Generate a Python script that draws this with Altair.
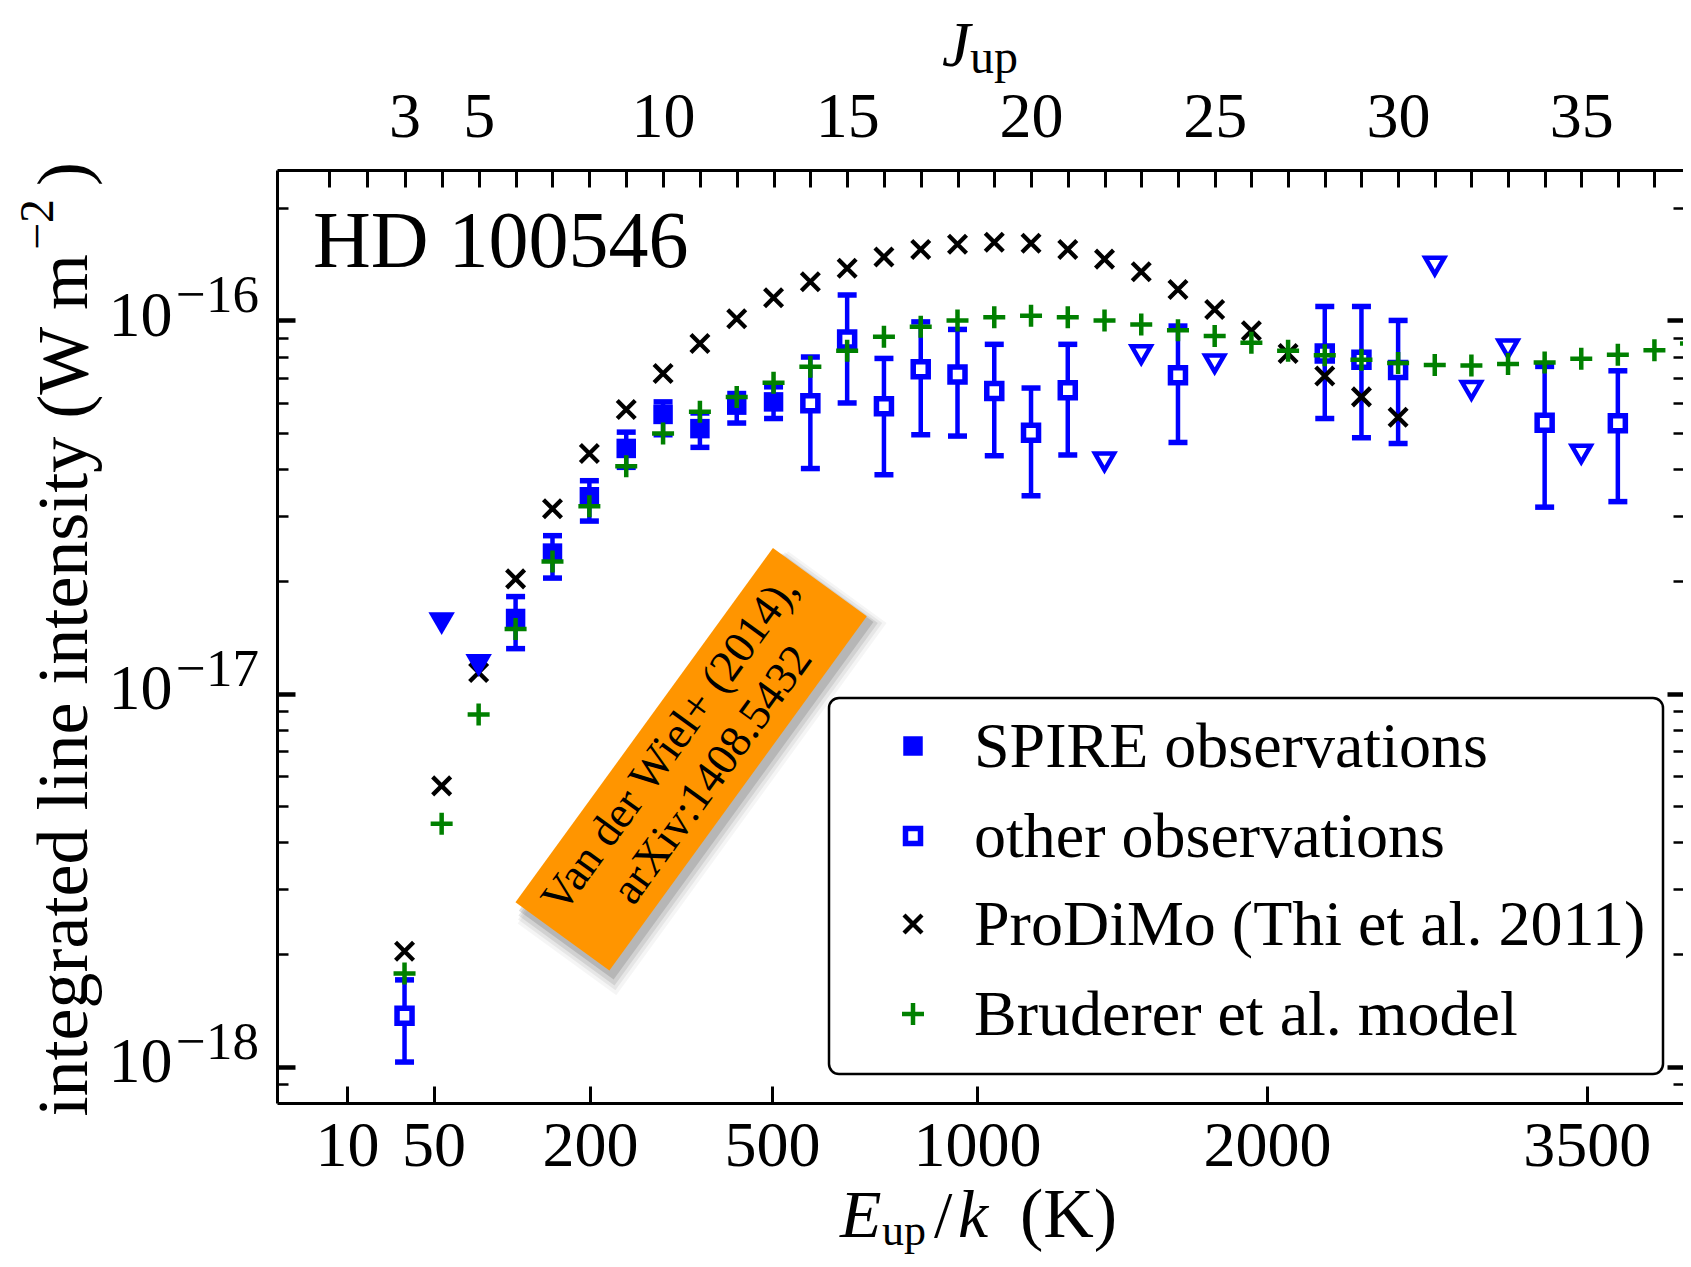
import altair as alt
import pandas as pd

FONT = "Liberation Serif"
BLUE = "#0000ff"
GREEN = "#008000"
ORANGE = "#ff9500"
W, H = 1406, 933          # visible plot area
XR = 1414                 # x-scale range (plot continues past the right edge)

# CO upper-level energies E_up/k (K) for J_up = 1..38
J_ALL = list(range(1, 39))
E_ALL = [5.53, 16.60, 33.19, 55.32, 82.97, 116.16, 154.87, 199.11, 248.88, 304.16,
         364.97, 431.29, 503.13, 580.49, 663.35, 751.72, 845.59, 944.97, 1049.84, 1160.20,
         1276.05, 1397.38, 1524.19, 1656.47, 1794.23, 1937.44, 2086.12, 2240.24, 2399.82, 2564.83,
         2735.28, 2911.15, 3092.45, 3279.15, 3471.25, 3668.75, 3871.63, 4079.9]
E_OF = dict(zip(J_ALL, E_ALL))

X_TICKS = [10, 50, 200, 500, 1000, 2000, 3500]
J_LABELS = [3, 5, 10, 15, 20, 25, 30, 35]
Y_MAJOR = [1e-18, 1e-17, 1e-16]
Y_EXP = ["\u221218", "\u221217", "\u221216"]
Y_MINOR = [9e-19, 2e-18, 3e-18, 4e-18, 5e-18, 6e-18, 7e-18, 8e-18, 9e-18,
           2e-17, 3e-17, 4e-17, 5e-17, 6e-17, 7e-17, 8e-17, 9e-17, 2e-16]

# ProDiMo (Thi et al. 2011)
PRODIMO_J = list(range(3, 31))
PRODIMO_I = [2.04e-18, 5.66e-18, 1.14e-17, 2.03e-17, 3.13e-17, 4.40e-17, 5.77e-17, 7.21e-17,
             8.67e-17, 1.01e-16, 1.15e-16, 1.27e-16, 1.38e-16, 1.48e-16, 1.55e-16, 1.60e-16,
             1.62e-16, 1.61e-16, 1.55e-16, 1.46e-16, 1.35e-16, 1.21e-16, 1.07e-16, 9.38e-17,
             8.15e-17, 7.10e-17, 6.24e-17, 5.50e-17]

# Bruderer et al. model
BRUD_J = list(range(3, 39))
BRUD_I = [1.78e-18, 4.48e-18, 8.79e-18, 1.49e-17, 2.26e-17, 3.18e-17, 4.07e-17, 4.98e-17,
          5.69e-17, 6.24e-17, 6.81e-17, 7.52e-17, 8.30e-17, 9.04e-17, 9.62e-17, 1.00e-16,
          1.02e-16, 1.03e-16, 1.02e-16, 1.00e-16, 9.75e-17, 9.42e-17, 9.08e-17, 8.71e-17,
          8.30e-17, 8.07e-17, 7.85e-17, 7.69e-17, 7.60e-17, 7.57e-17, 7.64e-17, 7.71e-17,
          7.89e-17, 8.09e-17, 8.32e-17, 8.67e-17]

# SPIRE observations
SPIRE_J = [6, 7, 8, 9, 10, 11, 12, 13]
SPIRE_I = [1.59e-17, 2.38e-17, 3.37e-17, 4.54e-17, 5.60e-17, 5.13e-17, 5.93e-17, 6.05e-17]
SPIRE_HI = [1.82e-17, 2.65e-17, 3.72e-17, 5.02e-17, 6.05e-17, 5.65e-17, 6.37e-17, 6.64e-17]
SPIRE_LO = [1.32e-17, 2.04e-17, 2.90e-17, 4.04e-17, 4.94e-17, 4.57e-17, 5.31e-17, 5.46e-17]
SPIRE_UL_J = [4, 5]
SPIRE_UL_I = [1.54e-17, 1.19e-17]

# other observations
OTHER_J = [3, 14, 15, 16, 17, 18, 19, 20, 21, 24, 28, 29, 30, 34, 36]
OTHER_I = [1.37e-18, 6.00e-17, 8.89e-17, 5.89e-17, 7.40e-17, 7.16e-17, 6.47e-17, 5.00e-17,
           6.50e-17, 7.13e-17, 8.15e-17, 7.85e-17, 7.36e-17, 5.32e-17, 5.30e-17]
OTHER_HI = [1.71e-18, 7.98e-17, 1.17e-16, 7.91e-17, 9.91e-17, 9.46e-17, 8.63e-17, 6.59e-17,
            8.63e-17, 9.66e-17, 1.09e-16, 1.09e-16, 1.00e-16, 7.53e-17, 7.33e-17]
OTHER_LO = [1.03e-18, 4.01e-17, 6.01e-17, 3.86e-17, 4.94e-17, 4.90e-17, 4.34e-17, 3.39e-17,
            4.36e-17, 4.71e-17, 5.46e-17, 4.85e-17, 4.68e-17, 3.16e-17, 3.27e-17]
OTHER_UL_J = [22, 23, 25, 31, 32, 33, 35]
OTHER_UL_I = [4.18e-17, 8.10e-17, 7.66e-17, 1.40e-16, 6.50e-17, 8.40e-17, 4.39e-17]

ANNOT_TEXT = ["Van der Wiel+ (2014),\narXiv:1408.5432"]
ANNOT_E = [350.0]
ANNOT_I = [6.67e-18]

LEGEND_LABELS = ["SPIRE observations", "other observations",
                 "ProDiMo (Thi et al. 2011)", "Bruderer et al. model"]

# ---------------------------------------------------------------- frames
def pts(js, vals):
    return pd.DataFrame({"E": [E_OF[j] for j in js], "v": vals})

prodimo_df = pts(PRODIMO_J, PRODIMO_I)
brud_df = pts(BRUD_J, BRUD_I)
spire_df = pts(SPIRE_J, SPIRE_I)
spire_ul_df = pts(SPIRE_UL_J, SPIRE_UL_I)
other_df = pts(OTHER_J, OTHER_I)
other_ul_df = pts(OTHER_UL_J, OTHER_UL_I)
err_df = pd.DataFrame({"E": [E_OF[j] for j in SPIRE_J + OTHER_J],
                       "lo": SPIRE_LO + OTHER_LO, "hi": SPIRE_HI + OTHER_HI})
caps_df = pd.DataFrame({"E": [E_OF[j] for j in SPIRE_J + OTHER_J] * 2,
                        "v": SPIRE_LO + OTHER_LO + SPIRE_HI + OTHER_HI})
exp_df = pd.DataFrame({"v": Y_MAJOR, "t": Y_EXP})
annot_df = pd.DataFrame({"E": ANNOT_E, "v": ANNOT_I, "t": ANNOT_TEXT})
one = pd.DataFrame({"a": [0]})

xs = alt.Scale(type="sqrt", domain=[0, 4080], range=[0, XR], nice=False, zero=False)
ys = alt.Scale(type="log", domain=[8e-19, 2.53e-16], nice=False)

def X(axis=None):
    return alt.X("E:Q", scale=xs, axis=axis, title=None)

def Y(field="v", axis=None):
    return alt.Y(f"{field}:Q", scale=ys, axis=axis, title=None)

label_expr = " : ".join(f"datum.value == {E_OF[j]} ? '{j}'" for j in J_LABELS) + " : ''"

AX_BOTTOM_LABELS = alt.Axis(orient="bottom", values=X_TICKS, format="d", ticks=False, tickSize=0,
                            domain=True, domainWidth=3, labelFontSize=64, labelPadding=62,
                            labelBaseline="alphabetic", labelOverlap=False, labelFlush=False)
AX_BOTTOM_TICKS = alt.Axis(orient="top", offset=-H, values=X_TICKS, labels=False, domain=False,
                           tickSize=17, tickWidth=3)
AX_TOP_LABELS = alt.Axis(orient="top", values=[E_OF[j] for j in J_LABELS], labelExpr=label_expr,
                         ticks=False, tickSize=0, domain=True, domainWidth=3, labelFontSize=64,
                         labelPadding=34, labelBaseline="alphabetic", labelOverlap=False,
                         labelFlush=False)
AX_TOP_TICKS = alt.Axis(orient="bottom", offset=-H, values=E_ALL, labels=False, domain=False,
                        tickSize=17, tickWidth=3)
AY_LEFT_LABELS = alt.Axis(orient="left", values=Y_MAJOR, labelExpr="'10'", ticks=False, tickSize=0,
                          domain=True, domainWidth=3, labelFontSize=64, labelPadding=105,
                          labelBaseline="alphabetic", labelOffset=15, labelOverlap=False,
                          labelFlush=False)
AY_LEFT_MAJOR = alt.Axis(orient="right", offset=-W, values=Y_MAJOR, labels=False, domain=False,
                         tickSize=18, tickWidth=4.5)
AY_LEFT_MINOR = alt.Axis(orient="right", offset=-W, values=Y_MINOR, labels=False, domain=False,
                         tickSize=11, tickWidth=2.5)
AY_RIGHT_MAJOR = alt.Axis(orient="left", offset=-W, values=Y_MAJOR, labels=False, domain=False,
                          tickSize=16, tickWidth=4.5)
AY_RIGHT_MINOR = alt.Axis(orient="left", offset=-W, values=Y_MINOR, labels=False, domain=False,
                          tickSize=10, tickWidth=2.5)

X_PATH = "M-1,-1L1,1M-1,1L1,-1"
PLUS_PATH = "M-1,0L1,0M0,-1L0,1"
BOX_PATH = "M-1,-0.265L1,-0.265L1,0.265L-1,0.265Z"

SQ_FILLED = dict(shape="square", filled=True, color=BLUE, size=380, strokeWidth=0, opacity=1)
SQ_OPEN = dict(shape="square", filled=True, fill="white", stroke=BLUE, strokeWidth=5.5, size=225, opacity=1)
XMARK = dict(shape=X_PATH, filled=False, stroke="black", strokeWidth=4.3, size=324, opacity=1)
PLUS = dict(shape=PLUS_PATH, filled=False, stroke=GREEN, strokeWidth=4.5, size=484, opacity=1)

# ---------------------------------------------------------------- layers
err = alt.Chart(err_df).mark_rule(color=BLUE, strokeWidth=4.5).encode(
    x=X(AX_BOTTOM_LABELS), y=Y("lo", AY_LEFT_LABELS), y2="hi")
caps = alt.Chart(caps_df).mark_tick(orient="horizontal", color=BLUE, size=19, thickness=5.5, opacity=1).encode(
    x=X(AX_BOTTOM_TICKS), y=Y("v", AY_LEFT_MAJOR))
other = alt.Chart(other_df).mark_point(**SQ_OPEN).encode(x=X(AX_TOP_LABELS), y=Y("v", AY_LEFT_MINOR))
spire = alt.Chart(spire_df).mark_point(**SQ_FILLED).encode(x=X(AX_TOP_TICKS), y=Y("v", AY_RIGHT_MAJOR))
other_ul = alt.Chart(other_ul_df).mark_point(
    shape="triangle-down", filled=True, fill="white", stroke=BLUE, strokeWidth=4.5, size=361, opacity=1
).encode(x=X(), y=Y("v", AY_RIGHT_MINOR))
prodimo = alt.Chart(prodimo_df).mark_point(**XMARK).encode(x=X(), y=Y())
spire_ul = alt.Chart(spire_ul_df).mark_point(
    shape="triangle-down", filled=True, color=BLUE, size=700, strokeWidth=0, opacity=1
).encode(x=X(), y=Y())
brud = alt.Chart(brud_df).mark_point(**PLUS).encode(x=X(), y=Y())

exps = alt.Chart(exp_df).mark_text(font=FONT, fontSize=53, align="left", baseline="alphabetic",
                                   dy=-8, color="black").encode(
    x=alt.value(-101), y=Y(), text="t:N")

hd = alt.Chart(one).mark_text(font=FONT, fontSize=80, align="left", baseline="alphabetic",
                              color="black", text="HD 100546").encode(x=alt.value(36), y=alt.value(97))

# annotation box with soft shadow
def box_layer(size, color, opacity, xo=0, yo=0):
    kw = dict(shape=BOX_PATH, filled=True, color=color, opacity=opacity,
              size=size ** 2, angle=306, strokeWidth=0)
    if xo or yo:
        kw.update(xOffset=xo, yOffset=yo)
    return alt.Chart(annot_df).mark_point(**kw).encode(x=X(), y=Y())

annot = [
    box_layer(460, "#000000", 0.04, 11, 14),
    box_layer(454, "#000000", 0.06, 9, 12),
    box_layer(448, "#000000", 0.09, 7, 10),
    box_layer(442, "#000000", 0.13, 5, 7),
    box_layer(438, ORANGE, 1),
    alt.Chart(annot_df).mark_text(font=FONT, fontSize=45, lineHeight=52, lineBreak="\n",
                                  angle=306, align="center", baseline="middle", dy=-26,
                                  color="black").encode(x=X(), y=Y(), text="t:N"),
]

def txt(s, x, y, size, italic=False, angle=0, align="left"):
    kw = dict(font=FONT, fontSize=size, align=align, baseline="alphabetic", color="black", text=s)
    if italic:
        kw["fontStyle"] = "italic"
    if angle:
        kw["angle"] = angle
    return alt.Chart(one).mark_text(**kw).encode(x=alt.value(x), y=alt.value(y))

titles = [
    # left title (rotated), with superscript
    txt("integrated line intensity (W m", -190, 84, 72, angle=270, align="right"),
    txt("\u22122", -224, 80, 48, angle=270, align="left"),
    txt(")", -190, 16, 72, angle=270, align="left"),
    # top title
    txt("J", 665, -104, 64, True), txt("up", 693, -97, 48),
    # bottom title
    txt("E", 563, 1067, 68, True), txt("up", 605, 1075, 44), txt("/", 657, 1067, 66),
    txt("k", 681, 1067, 68, True), txt("(K)", 743, 1067, 70),
]

# legend
LX0, LX1, LY0, LY1 = 552, 1386, 528, 904
ROWS = [576, 666, 754, 844]
legend_box = alt.Chart(one).mark_rect(fill="white", stroke="black", strokeWidth=2.5, cornerRadius=10).encode(
    x=alt.value(LX0), x2=alt.value(LX1), y=alt.value(LY0), y2=alt.value(LY1))
legend_layers = [legend_box]
for style, label, ry in zip([SQ_FILLED, SQ_OPEN, XMARK, PLUS], LEGEND_LABELS, ROWS):
    legend_layers.append(alt.Chart(one).mark_point(**style).encode(x=alt.value(636), y=alt.value(ry)))
    legend_layers.append(alt.Chart(one).mark_text(font=FONT, fontSize=64, align="left", baseline="middle",
                                                  color="black", text=label).encode(
        x=alt.value(697), y=alt.value(ry + 2)))

chart = alt.layer(
    err, caps, other, spire, other_ul, prodimo, spire_ul, brud,
    exps, hd, *annot, *titles, *legend_layers
).resolve_axis(x="independent", y="independent").properties(
    width=W, height=H,
    autosize=alt.AutoSizeParams(type="none"),
    padding={"left": 269, "top": 162, "right": 0, "bottom": 151},
).configure_view(strokeWidth=0).configure_axis(
    labelFont=FONT, labelColor="black", tickColor="black", domainColor="black", grid=False
)

chart.save("out.html", embed_options={"renderer": "svg", "actions": False})
